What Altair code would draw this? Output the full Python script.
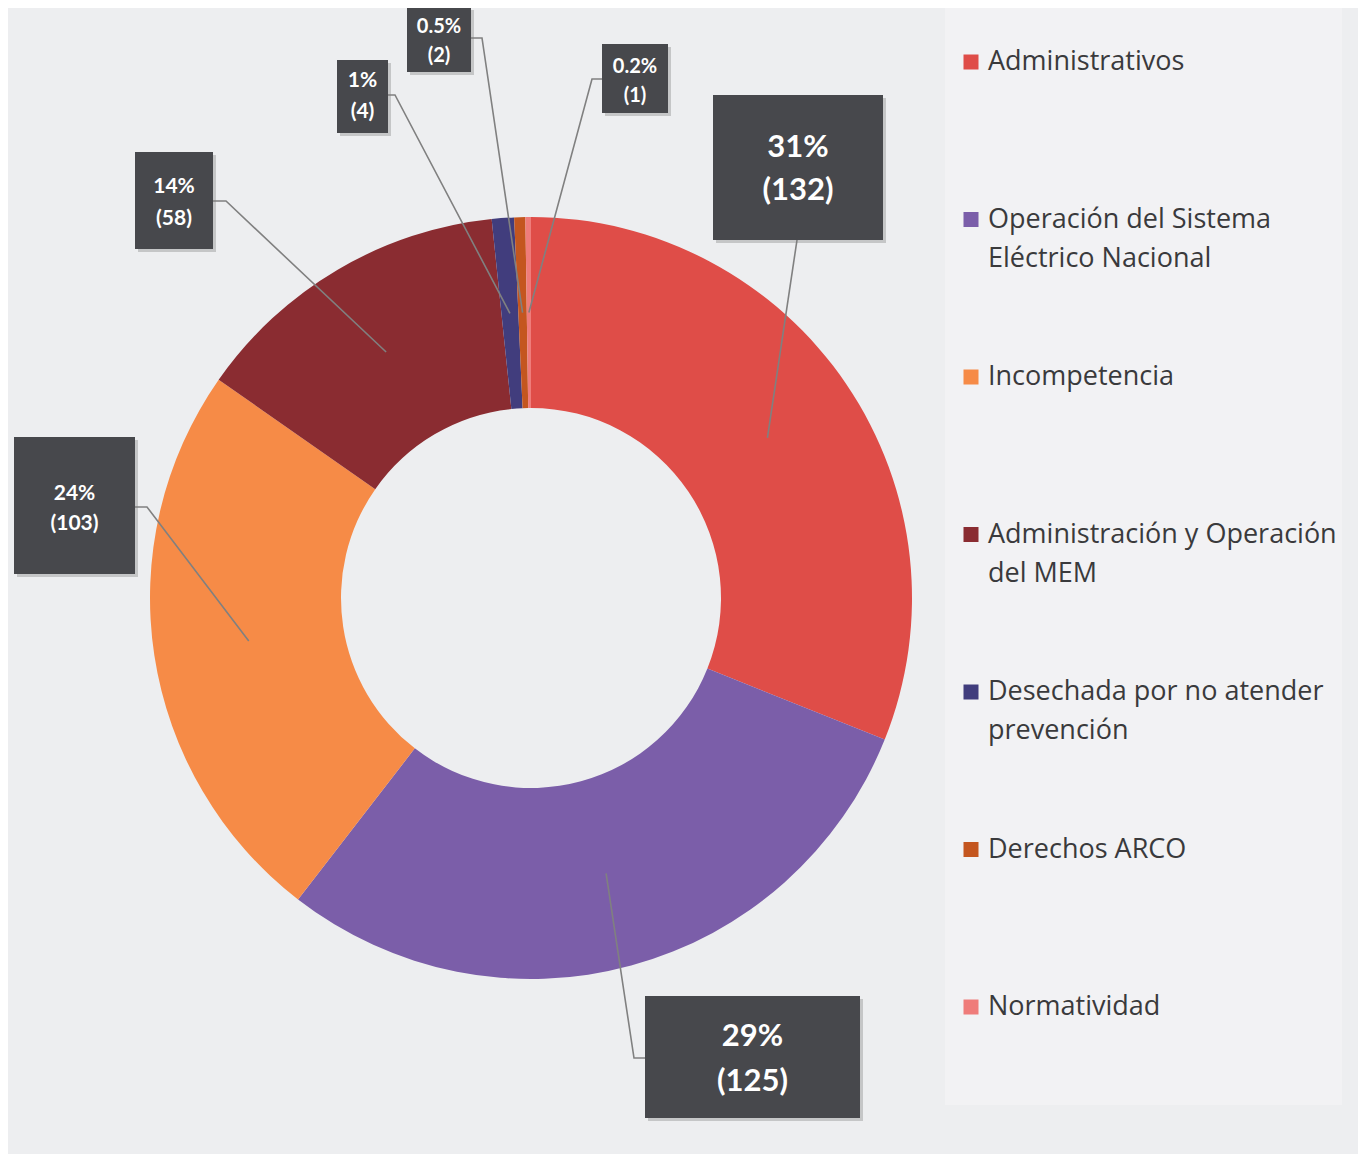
import math
import altair as alt
import pandas as pd

# ---------------- data ----------------
categories = [
    "Administrativos",
    "Operación del Sistema Eléctrico Nacional",
    "Incompetencia",
    "Administración y Operación del MEM",
    "Desechada por no atender prevención",
    "Derechos ARCO",
    "Normatividad",
]
counts = [132, 125, 103, 58, 4, 2, 1]
pct_labels = ["31%", "29%", "24%", "14%", "1%", "0.5%", "0.2%"]
legend_lines = [
    ["Administrativos"],
    ["Operación del Sistema", "Eléctrico Nacional"],
    ["Incompetencia"],
    ["Administración y Operación", "del MEM"],
    ["Desechada por no atender", "prevención"],
    ["Derechos ARCO"],
    ["Normatividad"],
]
colors = ["#DF4D48", "#7B5EA9", "#F68B47", "#8A2C31", "#413D7D", "#C4561F", "#EF7C7A"]

# ---------------- layout (page pixels) ----------------
W, H = 1350, 1146
CX, CY = 531, 598
R_OUT, R_IN = 381, 190
box_x1 = [713, 645, 14, 135, 337, 407, 602]
box_x2 = [883, 860, 135, 213, 388, 471, 668]
box_y1 = [95, 996, 437, 152, 60, 7, 44]
box_y2 = [240, 1118, 574, 249, 133, 72, 113]
line1_y = [148, 1037, 494, 187, 81, 27, 67]
line2_y = [191, 1082, 524, 219, 112, 56, 96]
font_sz = [31, 31, 21, 21, 21, 20, 20]
elbows = [
    [(797, 240)],
    [(645, 1058), (634, 1058)],
    [(135, 507), (147, 507)],
    [(213, 201), (226, 201)],
    [(388, 95), (395, 95)],
    [(471, 38), (482, 38)],
    [(602, 79), (592, 79)],
]
LEG_X_SQ, LEG_X_TXT, LEG_Y0, LEG_DY, LEG_LH = 971, 988, 62, 157.5, 39

# ---------------- tables ----------------
total = sum(counts)
arc_df = pd.DataFrame({"cat": categories, "count": counts, "idx": list(range(len(counts)))})

lead_rows, box_rows, txt_rows = [], [], []
cum = 0
r_mid = (R_OUT + R_IN) / 2
for i, c in enumerate(counts):
    mid = (cum + c / 2) / total * 2 * math.pi
    cum += c
    ex = CX + r_mid * math.sin(mid)
    ey = CY - r_mid * math.cos(mid)
    for k, (px, py) in enumerate(elbows[i] + [(ex, ey)]):
        lead_rows.append({"lab": pct_labels[i], "k": k, "x": px, "y": py})
    box_rows.append({"x1": box_x1[i], "x2": box_x2[i], "y1": box_y1[i], "y2": box_y2[i],
                     "sx1": box_x1[i] + 3, "sx2": box_x2[i] + 3, "sy1": box_y1[i] + 3, "sy2": box_y2[i] + 3})
    xc = (box_x1[i] + box_x2[i]) / 2
    txt_rows.append({"x": xc, "y": line1_y[i], "t": pct_labels[i], "fs": font_sz[i]})
    txt_rows.append({"x": xc, "y": line2_y[i], "t": "(%d)" % c, "fs": font_sz[i]})

leg_sq, leg_txt = [], []
for i, cat in enumerate(categories):
    y0 = LEG_Y0 + i * LEG_DY
    leg_sq.append({"cat": cat, "x": LEG_X_SQ, "y": y0})
    for k, ln in enumerate(legend_lines[i]):
        leg_txt.append({"x": LEG_X_TXT, "y": y0 + k * LEG_LH, "t": ln})

lead_df = pd.DataFrame(lead_rows)
box_df = pd.DataFrame(box_rows)
txt_df = pd.DataFrame(txt_rows)
legsq_df = pd.DataFrame(leg_sq)
legtxt_df = pd.DataFrame(leg_txt)
panel_df = pd.DataFrame({"x1": [945], "x2": [1342], "y1": [8], "y2": [1105]})

xs = alt.Scale(domain=[8, 8 + W], zero=False, nice=False)
ys = alt.Scale(domain=[8, 8 + H], zero=False, nice=False, reverse=True)
cs = alt.Scale(domain=categories, range=colors)


def X(f):
    return alt.X(f, type="quantitative", scale=xs, axis=None)


def Y(f):
    return alt.Y(f, type="quantitative", scale=ys, axis=None)


panel = alt.Chart(panel_df).mark_rect(color="#F2F2F4").encode(
    x=X("x1"), x2="x2", y=Y("y1"), y2="y2")

arcs = alt.Chart(arc_df).mark_arc(innerRadius=R_IN, outerRadius=R_OUT).encode(
    theta=alt.Theta("count:Q", stack=True),
    color=alt.Color("cat:N", scale=cs, legend=None),
    order=alt.Order("idx:Q"),
    x=alt.value(CX - 8),
    y=alt.value(CY - 8),
)

leads = alt.Chart(lead_df).mark_line(color="#808080", strokeWidth=1.6).encode(
    x=X("x"), y=Y("y"), detail="lab:N", order="k:Q")

shadows = alt.Chart(box_df).mark_rect(color="#7a7a7a", opacity=0.35).encode(
    x=X("sx1"), x2="sx2", y=Y("sy1"), y2="sy2")

boxes = alt.Chart(box_df).mark_rect(color="#47484C").encode(
    x=X("x1"), x2="x2", y=Y("y1"), y2="y2")

texts = alt.Chart(txt_df).mark_text(
    font="Lato", fontWeight="bold", color="#FFFFFF", align="center", baseline="middle"
).encode(x=X("x"), y=Y("y"), text="t:N", size=alt.Size("fs:Q", scale=None))

leg_squares = alt.Chart(legsq_df).mark_square(size=225, opacity=1).encode(
    x=X("x"), y=Y("y"), color=alt.Color("cat:N", scale=cs, legend=None))

leg_texts = alt.Chart(legtxt_df).mark_text(
    font="Open Sans", fontSize=27, color="#3A3A3C", align="left", baseline="middle"
).encode(x=X("x"), y=Y("y"), text="t:N")

chart = alt.layer(panel, arcs, leads, shadows, boxes, texts, leg_squares, leg_texts).properties(
    width=W, height=H, autosize=alt.AutoSizeParams(type="none"), padding=0,
    background="#EDEEF0",
).configure_view(stroke=None)

chart.save("out.html", embed_options={"renderer": "svg", "actions": False})
